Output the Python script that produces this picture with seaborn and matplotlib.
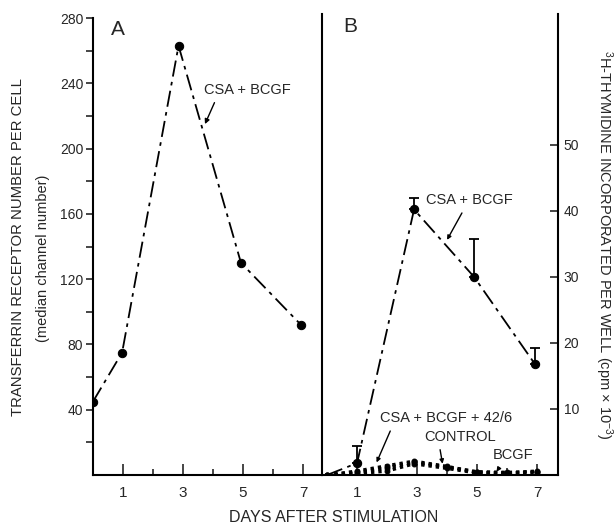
import matplotlib
matplotlib.use("Agg")
import matplotlib.pyplot as plt
import seaborn as sns

# panel A: transferrin receptor (median channel number)
days_a = [0, 0.97, 2.85, 4.93, 6.93]
receptor_a = [45, 75, 263, 130, 92]

# panel B: 3H-thymidine (cpm x 10^-3)
days_b = [0, 1, 2.9, 4.9, 6.93]
csa_bcgf_b = [0, 1.8, 40.2, 30.0, 16.8]
csa_bcgf_err = [0, 2.6, 1.7, 5.7, 2.4]

days_low = [0, 1, 2, 2.9, 4, 5, 6, 7]
csa_bcgf_426 = [0, 0.6, 1.4, 2.1, 1.3, 0.4, 0.3, 0.4]
control = [0, 0.4, 1.1, 1.9, 1.2, 0.5, 0.4, 0.5]
bcgf = [0, 0.2, 0.6, 1.7, 1.0, 0.3, 0.3, 0.6]

W, H = 614, 528

sns.set_theme(style="white")
plt.rcParams["font.family"] = ["Liberation Sans", "DejaVu Sans"]
plt.rcParams["mathtext.default"] = "regular"

fig = plt.figure(figsize=(W / 100, H / 100), dpi=100)


def box(x0, y0, x1, y1):
    return [x0 / W, 1 - y1 / H, (x1 - x0) / W, (y1 - y0) / H]


dashdot = (0, (9, 3, 2, 3))

# ---- panel A ----
ax1 = fig.add_axes(box(93, 18, 322, 475))
sns.lineplot(x=days_a, y=receptor_a, ax=ax1, color="black", marker="o",
             markersize=6, linewidth=1.3, linestyle=dashdot, sort=False,
             markeredgecolor="black")
ax1.set_xlim(0, 7.63)
ax1.set_ylim(0, 280)
ax1.set_yticks(range(40, 281, 40))
ax1.set_yticks(range(20, 281, 40), minor=True)
ax1.set_xticks([1, 3, 5, 7])
ax1.set_xticks([2, 4, 6], minor=True)
ax1.tick_params(axis="y", which="both", direction="out", length=5, width=1.2,
                labelsize=10, pad=2, left=True)
ax1.tick_params(axis="x", which="major", direction="in", length=8, width=1.2,
                labelsize=11, pad=8, bottom=True)
ax1.tick_params(axis="x", which="minor", direction="in", length=4, width=1.2,
                bottom=True)
for s in ["top", "right"]:
    ax1.spines[s].set_visible(False)
for s in ["left", "bottom"]:
    ax1.spines[s].set_linewidth(1.5)
    ax1.spines[s].set_color("black")
ax1.set_xlabel("")
ax1.set_ylabel("")
ax1.text(0.11, 0.975, "A", transform=ax1.transAxes, fontsize=15,
         ha="center", va="center")
ax1.annotate("CSA + BCGF", xy=(3.73, 215), xytext=(3.7, 236),
             fontsize=10.5, ha="left", va="center",
             arrowprops=dict(arrowstyle="-|>", color="black", lw=1,
                             mutation_scale=7, shrinkB=0,
                             relpos=(0.15, 0)))

# ---- panel B ----
ax2 = fig.add_axes(box(322, 14, 558, 475))
sns.lineplot(x=days_b, y=csa_bcgf_b, ax=ax2, color="black", marker="o",
             markersize=6, linewidth=1.3, linestyle=dashdot, sort=False,
             markeredgecolor="black", markevery=[1, 2, 3, 4])
ax2.errorbar(days_b[1:], csa_bcgf_b[1:],
             yerr=[[0] * 4, csa_bcgf_err[1:]], fmt="none", ecolor="black",
             elinewidth=1.3, capsize=3.5, capthick=1.3)
for series in [csa_bcgf_426, control, bcgf]:
    sns.lineplot(x=days_low, y=series, ax=ax2, color="black", marker="o",
                 markersize=3.5, linewidth=2.4, linestyle=(0, (1, 1.2)),
                 sort=False, markeredgecolor="black")
ax2.set_xlim(-0.17, 7.7)
ax2.set_ylim(0, 69.8)
ax2.yaxis.tick_right()
ax2.yaxis.set_label_position("right")
ax2.set_yticks([10, 20, 30, 40, 50])
ax2.set_xticks([1, 3, 5, 7])
ax2.set_xticks([2, 4, 6], minor=True)
ax2.tick_params(axis="y", which="both", direction="in", length=6, width=1.2,
                labelsize=10, pad=4, right=True, left=False)
ax2.tick_params(axis="x", which="major", direction="in", length=8, width=1.2,
                labelsize=11, pad=8, bottom=True)
ax2.tick_params(axis="x", which="minor", direction="in", length=5, width=1.2,
                bottom=True)
ax2.spines["top"].set_visible(False)
for s in ["left", "right", "bottom"]:
    ax2.spines[s].set_linewidth(1.5)
    ax2.spines[s].set_color("black")
ax2.set_xlabel("")
ax2.set_ylabel("")
ax2.text(0.12, 0.972, "B", transform=ax2.transAxes, fontsize=15,
         ha="center", va="center")

arrow = dict(arrowstyle="-|>", color="black", lw=1, mutation_scale=6,
             shrinkB=0)
ax2.annotate("CSA + BCGF", xy=(4.0, 35.6), xytext=(3.3, 41.6),
             fontsize=10.5, ha="left", va="center",
             arrowprops=dict(arrow, relpos=(0.45, 0)))
ax2.annotate("CSA + BCGF + 42/6", xy=(1.65, 1.9), xytext=(1.75, 8.6),
             fontsize=10.5, ha="left", va="center",
             arrowprops=dict(arrow, relpos=(0.1, 0)))
ax2.annotate("CONTROL", xy=(3.85, 1.7), xytext=(4.45, 5.8),
             fontsize=10.5, ha="center", va="center",
             arrowprops=dict(arrow, relpos=(0.2, 0)))
ax2.annotate("BCGF", xy=(5.65, 0.5), xytext=(6.2, 3.0),
             fontsize=10.5, ha="center", va="center",
             arrowprops=dict(arrow, relpos=(0.25, 0)))

# ---- shared labels ----
fig.text(18 / W, 1 - 247 / H, "TRANSFERRIN RECEPTOR NUMBER PER CELL",
         rotation=90, ha="center", va="center", fontsize=10.7)
fig.text(43 / W, 1 - 258 / H, "(median channel number)",
         rotation=90, ha="center", va="center", fontsize=10.5)
fig.text(604 / W, 1 - 245 / H,
         "$^3$H-THYMIDINE INCORPORATED PER WELL (cpm × 10$^{-3}$)",
         rotation=270, ha="center", va="center", fontsize=10.5)
fig.text(334 / W, 1 - 518 / H, "DAYS AFTER STIMULATION",
         ha="center", va="center", fontsize=11.5)

fig.savefig("out.png", dpi=100)
